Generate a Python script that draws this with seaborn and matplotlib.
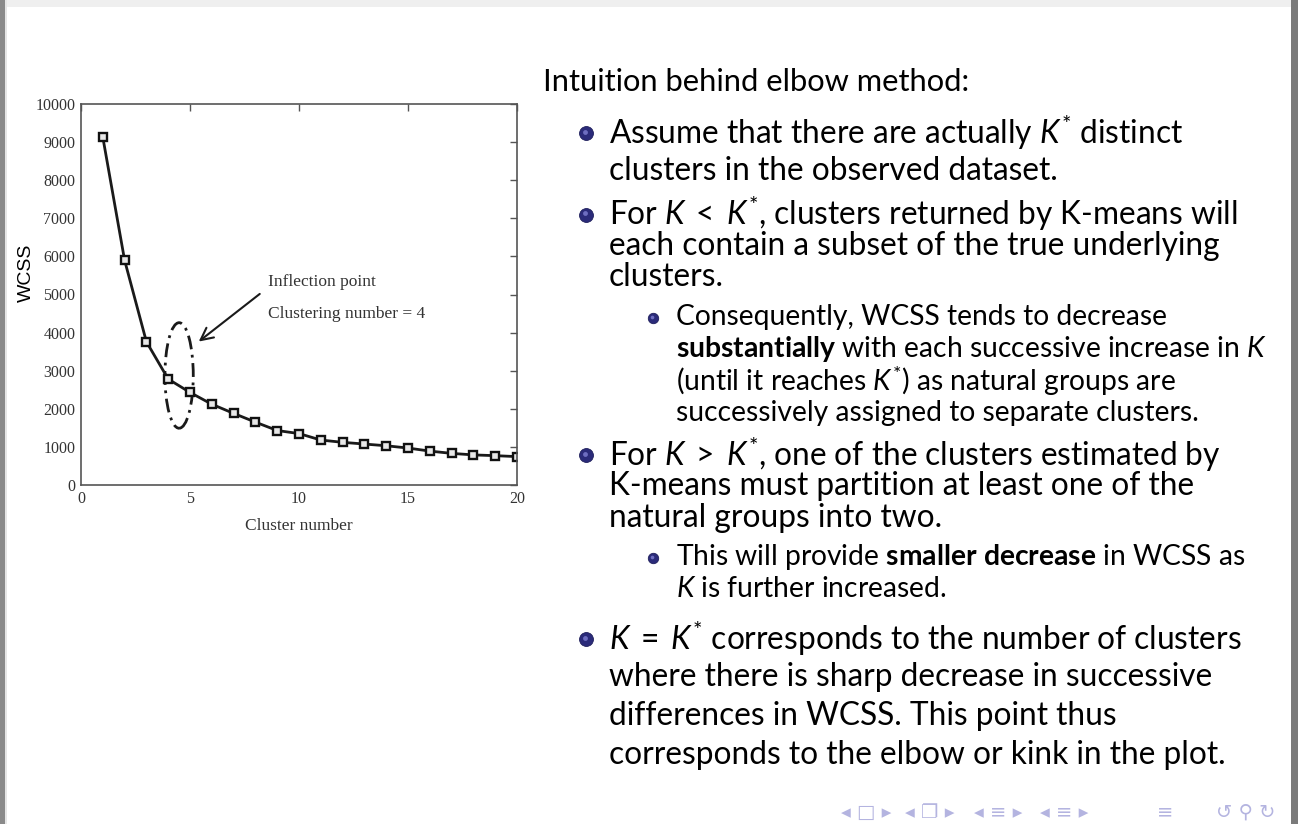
import matplotlib
matplotlib.use("Agg")
import matplotlib.pyplot as plt
from matplotlib.patches import Ellipse, Rectangle
import seaborn as sns
import pandas as pd

# elbow curve
clusters = list(range(1, 21))
wcss = [9130, 5900, 3760, 2780, 2430, 2120, 1880, 1650, 1430, 1350,
        1180, 1120, 1075, 1030, 970, 890, 830, 790, 770, 745]

x_ticks = [0, 5, 10, 15, 20]
y_ticks = list(range(0, 10001, 1000))

title_line = "Intuition behind elbow method:"
# (level, lines)
bullets = [
    (1, [r"Assume that there are actually $K^{*}$ distinct",
         "clusters in the observed dataset."]),
    (1, [r"For $K\;<\;K^{*}$, clusters returned by K-means will",
         "each contain a subset of the true underlying",
         "clusters."]),
    (2, ["Consequently, WCSS tends to decrease",
         r"$\mathbf{substantially}$ with each successive increase in $K$",
         r"(until it reaches $K^{*}$) as natural groups are",
         "successively assigned to separate clusters."]),
    (1, [r"For $K\;>\;K^{*}$, one of the clusters estimated by",
         "K-means must partition at least one of the",
         "natural groups into two."]),
    (2, [r"This will provide $\mathbf{smaller\ decrease}$ in WCSS as",
         "$K$ is further increased."]),
    (1, [r"$K\;=\;K^{*}$ corresponds to the number of clusters",
         "where there is sharp decrease in successive",
         "differences in WCSS. This point thus",
         "corresponds to the elbow or kink in the plot."]),
]
# first-line centre (px) and line pitch for each bullet
bullet_y = [132, 213.5, 317, 454, 557, 638]
bullet_pitch = [39, 32, 32, 32, 32, 39]

nav_groups = ["◂ □ ▸", "◂ ❐ ▸", "◂ ≡ ▸", "◂ ≡ ▸", "≡", "↺ ⚲ ↻"]
nav_x = [866, 930, 998, 1064, 1165, 1246]

sns.set_style("white")
plt.rcParams["mathtext.fontset"] = "custom"
plt.rcParams["mathtext.rm"] = "Lato"
plt.rcParams["mathtext.it"] = "Lato:italic"
plt.rcParams["mathtext.bf"] = "Lato:bold"
plt.rcParams["mathtext.sf"] = "Lato"

W, H = 1298, 824
fig = plt.figure(figsize=(W / 100, H / 100), dpi=100)

# page overlay in pixel coordinates
page = fig.add_axes([0, 0, 1, 1])
page.set_xlim(0, W)
page.set_ylim(H, 0)
page.axis("off")
page.add_patch(Rectangle((0, 0), W, 7, color="#efefef", lw=0))
page.add_patch(Rectangle((0, 0), 5, H, color="#8a8a8a", lw=0))
page.add_patch(Rectangle((5, 0), 2, H, color="#e6e6e6", lw=0))
page.add_patch(Rectangle((1291, 0), 7, H, color="#7a7a7a", lw=0))

# chart
df = pd.DataFrame({"Cluster number": clusters, "WCSS": wcss})
ax = fig.add_axes([81 / W, 1 - 485 / H, 436 / W, 381 / H])
sns.lineplot(data=df, x="Cluster number", y="WCSS", ax=ax, color="#1a1a1a",
             lw=2, marker="s", markersize=5.3, markerfacecolor="#e8e8e8",
             markeredgecolor="#111111", markeredgewidth=1.7)
ax.set_xlim(0, 20)
ax.set_ylim(0, 10000)
ax.set_xticks(x_ticks)
ax.set_yticks(y_ticks)
ax.tick_params(direction="in", length=5, width=1, color="#555555",
               top=True, right=True, labelsize=11.5, labelcolor="#333333", pad=4)
for lab in ax.get_xticklabels() + ax.get_yticklabels():
    lab.set_family("Liberation Serif")
for s in ax.spines.values():
    s.set_color("#555555")
    s.set_linewidth(1.2)
ax.set_xlabel("Cluster number", family="Liberation Serif", fontsize=12.5,
              color="#333333", labelpad=8)
ax.set_ylabel("WCSS", family="Liberation Sans", fontsize=14, color="black")
ax.yaxis.set_label_coords(-0.105, 0.556)

ax.add_patch(Ellipse((4.5, 2875), 1.3, 2770, fill=False, ls=(0, (5, 2, 1, 2)),
                     lw=2, color="#1a1a1a"))
ax.annotate("", xy=(5.3, 3720), xytext=(8.3, 5060),
            arrowprops=dict(arrowstyle="->", lw=1.5, color="#1a1a1a",
                            mutation_scale=22))
ax.text(8.6, 5330, "Inflection point", family="Liberation Serif",
        fontsize=12.5, color="#333333", va="center")
ax.text(8.6, 4490, "Clustering number = 4", family="Liberation Serif",
        fontsize=12.5, color="#333333", va="center")

# slide text
page.text(543, 82, title_line, family="Lato", fontsize=22.2, va="center",
          color="black")
for (level, lines), y0, pitch in zip(bullets, bullet_y, bullet_pitch):
    if level == 1:
        bx, tx, fs, ms = 586, 609, 22.8, 10
    else:
        bx, tx, fs, ms = 653, 676, 20.3, 7.5
    page.plot(bx, y0 + 1, "o", color="#2b2b7a", ms=ms, mec="#1f1f5c", mew=0.6)
    page.plot(bx - ms * 0.12, y0 + 1 - ms * 0.12, "o", color="#6e6ec0",
              ms=ms * 0.35, mew=0)
    for i, line in enumerate(lines):
        page.text(tx, y0 + i * pitch, line, family="Lato", fontsize=fs,
                  va="center", color="black")

# beamer navigation symbols
for g, gx in zip(nav_groups, nav_x):
    page.text(gx, 812, g, family=["DejaVu Sans", "Noto Sans"], fontsize=14,
              color="#b4b4e0", ha="center", va="center")

fig.savefig("out.png", dpi=100)
